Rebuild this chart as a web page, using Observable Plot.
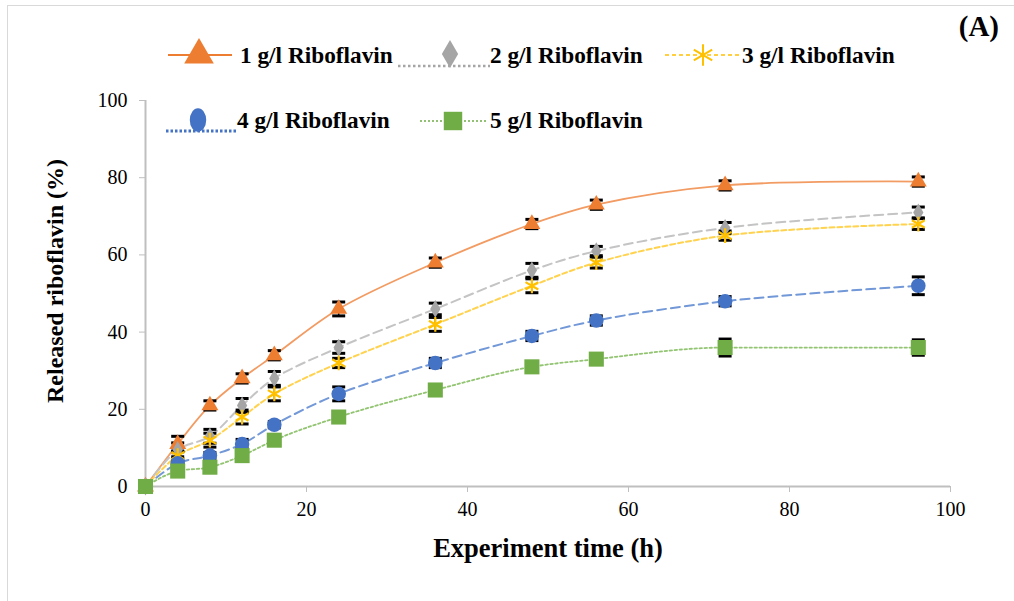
<!DOCTYPE html>
<html><head><meta charset="utf-8">
<script src="https://cdn.jsdelivr.net/npm/d3@7"></script>
<script src="https://cdn.jsdelivr.net/npm/@observablehq/plot@0.6"></script>
<style>
body{margin:0;background:#fff;}
#wrap{position:relative;width:1014px;height:601px;overflow:hidden;font-family:"Liberation Serif","Times New Roman",serif;color:#000;background:#fff;}
#frame{position:absolute;left:7px;top:5px;width:1100px;height:700px;border:1px solid #d9d9d9;box-sizing:border-box;}
#chart{position:absolute;left:0;top:0;}
#overlay{position:absolute;left:0;top:0;}
.t{position:absolute;font-weight:bold;white-space:nowrap;}
#chart text{font-family:"Liberation Serif","Times New Roman",serif;}
</style>
</head><body>
<div id="wrap">
<div id="frame"></div>
<div id="chart"></div>
<svg id="overlay" width="1014" height="601"></svg>
<div class="t" id="ytitle" style="left:55px;top:281px;font-size:24px;transform:translate(-50%,-50%) rotate(-90deg);">Released riboflavin (%)</div>
<div class="t" style="left:548px;top:548px;font-size:26.5px;transform:translate(-50%,-50%);">Experiment time (h)</div>
<div class="t" style="left:999px;top:26px;font-size:29px;transform:translate(-100%,-50%);">(A)</div>
</div>
<script>
// ---- data ----
const times = [0, 4, 8, 12, 16, 24, 36, 48, 56, 72, 96];
const seriesNames = ["1 g/l Riboflavin", "2 g/l Riboflavin", "3 g/l Riboflavin", "4 g/l Riboflavin", "5 g/l Riboflavin"];
const s1 = [0, 11, 21, 28, 34, 46, 58, 68, 73, 78, 79];
const s2 = [0, 9.5, 13, 21, 28, 36, 46, 56, 61, 67, 71];
const s3 = [0, 8, 12, 18, 24, 32, 42, 52, 58, 65, 68];
const s4 = [0, 6, 8, 11, 16, 24, 32, 39, 43, 48, 52];
const s5 = [0, 4, 5, 8, 12, 18, 25, 31, 33, 36, 36];
const e1 = [0, 2, 1.2, 1.2, 1.2, 1.8, 1.2, 1.2, 1.2, 1.2, 1.2];
const e2 = [0, 1.8, 1.8, 1.8, 1.8, 1.5, 1.5, 1.8, 1.2, 1.4, 1.4];
const e3 = [0, 1.2, 1.8, 1.8, 1.8, 1.2, 1.8, 1.8, 1.4, 1.2, 1.4];
const e4 = [0, 1.2, 0.8, 1.2, 0.8, 1.8, 1.2, 1.2, 1.2, 1.2, 2.3];
const e5 = [0, 1.2, 1.2, 1.2, 1.2, 1, 1, 1, 1.4, 2.2, 2];
const xTicks = [0, 20, 40, 60, 80, 100];
const yTicks = [0, 20, 40, 60, 80, 100];

// ---- styles ----
const values = [s1, s2, s3, s4, s5];
const errors = [e1, e2, e3, e4, e5];
const markerColors = ["#ed7d31", "#a5a5a5", "#ffc000", "#4472c4", "#70ad47"];
const lineColors = ["#f29b62", "#c4c4c4", "#ffd34f", "#7298d8", "#92c472"];
const dashes = [null, "9,5", "5,3", "9,5", "2.5,2.5"];
const lineWidths = [1.8, 2, 2, 2, 1.8];
const curves = ["catmull-rom", "catmull-rom", "catmull-rom", "catmull-rom", "monotone-x"];
const symbols = ["triangle", "diamond", "asterisk", "circle", "square"];
const radii = [6.3, 5.4, 7, 7.3, 8.5];

const rows = [];
seriesNames.forEach((s, i) => times.forEach((t, j) => rows.push({s, i, t, v: values[i][j], e: errors[i][j]})));

const cap = {draw(ctx, size) { const w = Math.sqrt(size / Math.PI); ctx.moveTo(-w, 0); ctx.lineTo(w, 0); }};
const serif = '"Liberation Serif","Times New Roman",serif';

const marks = [
  Plot.ruleY([0], {stroke: "#bfbfbf", strokeWidth: 2}),
  Plot.ruleX([0], {stroke: "#bfbfbf", strokeWidth: 2}),
  Plot.axisX({ticks: xTicks, tickSize: 6, tickPadding: 9, stroke: "#bfbfbf", fill: "#000", fontSize: 20, fontFamily: serif, label: null, tickFormat: d => String(d)}),
  Plot.axisY({ticks: yTicks, tickSize: 6, tickPadding: 12, stroke: "#bfbfbf", fill: "#000", fontSize: 20, fontFamily: serif, label: null, tickFormat: d => String(d)})
];
seriesNames.forEach((s, i) => {
  const data = rows.filter(d => d.i === i);
  marks.push(Plot.line(data, {x: "t", y: "v", curve: curves[i], stroke: lineColors[i], strokeWidth: lineWidths[i], strokeDasharray: dashes[i]}));
});
const eb = rows.filter(d => d.e > 0);
marks.push(Plot.ruleX(eb, {x: "t", y1: d => d.v - d.e, y2: d => d.v + d.e, stroke: "#000", strokeWidth: 1.5}));
marks.push(Plot.dot(eb, {x: "t", y: d => d.v - d.e, symbol: cap, r: 6.5, stroke: "#000", strokeWidth: 3}));
marks.push(Plot.dot(eb, {x: "t", y: d => d.v + d.e, symbol: cap, r: 6.5, stroke: "#000", strokeWidth: 3}));
seriesNames.forEach((s, i) => {
  const data = rows.filter(d => d.i === i);
  const stroked = symbols[i] === "asterisk";
  marks.push(Plot.dot(data, {x: "t", y: "v", symbol: symbols[i], r: radii[i],
    fill: stroked ? "none" : markerColors[i], stroke: stroked ? markerColors[i] : "none", strokeWidth: stroked ? 2.2 : 0}));
});

const chart = Plot.plot({
  width: 1014, height: 601,
  marginLeft: 145, marginRight: 64, marginTop: 100, marginBottom: 115,
  x: {domain: [0, 100]},
  y: {domain: [0, 100]},
  style: {fontFamily: serif, fontSize: "20px", color: "#000", background: "transparent", overflow: "visible"},
  marks
});
document.getElementById("chart").appendChild(chart);

// ---- legend ----
const ov = d3.select("#overlay");
const legendPos = [
  {lx1: 168, lx2: 232, ly: 55, mx: 199, my: 55, tx: 240, ty: 55, dash: null, lw: 1.8},
  {lx1: 398, lx2: 490, ly: 66, mx: 450, my: 54, tx: 490, ty: 55, dash: "2.5,2.5", lw: 2.5},
  {lx1: 665, lx2: 741, ly: 55, mx: 703, my: 55, tx: 742, ty: 55, dash: "4,3", lw: 1.3},
  {lx1: 166, lx2: 236, ly: 131, mx: 198, my: 120, tx: 237, ty: 120, dash: "2.5,2", lw: 3},
  {lx1: 420, lx2: 487, ly: 121, mx: 453, my: 121, tx: 490, ty: 120, dash: "2,2", lw: 1.3}
];
const legendLineColors = ["#ed7d31", "#a5a5a5", "#ffc000", "#4472c4", "#70ad47"];
const symbolSizes = [380, 230, 320, 330, 340];
const symMap = {triangle: d3.symbolTriangle, diamond: d3.symbolDiamond, asterisk: d3.symbolAsterisk, circle: d3.symbolCircle, square: d3.symbolSquare};
seriesNames.forEach((s, i) => {
  const p = legendPos[i];
  ov.append("line").attr("x1", p.lx1).attr("x2", p.lx2).attr("y1", p.ly).attr("y2", p.ly)
    .attr("stroke", legendLineColors[i]).attr("stroke-width", p.lw).attr("stroke-dasharray", p.dash);
  const stroked = symbols[i] === "asterisk";
  ov.append("path").attr("d", d3.symbol(symMap[symbols[i]], symbolSizes[i])())
    .attr("transform", `translate(${p.mx},${p.my})` + (symbols[i] === "circle" ? " scale(0.8,1.15)" : ""))
    .attr("fill", stroked ? "none" : markerColors[i]).attr("stroke", stroked ? markerColors[i] : "none").attr("stroke-width", 2);
  ov.append("text").attr("x", p.tx).attr("y", p.ty).attr("dy", "0.35em").text(s)
    .attr("font-family", serif).attr("font-weight", "bold").attr("font-size", 23.3);
});
</script>
</body></html>
